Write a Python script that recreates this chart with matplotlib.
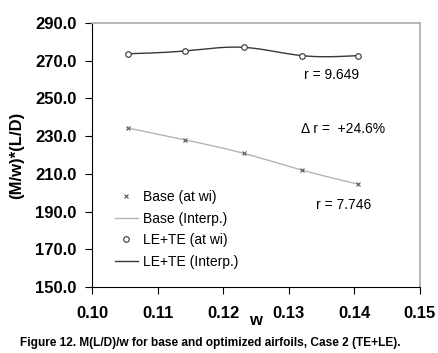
import numpy as np
import matplotlib
matplotlib.use("Agg")
import matplotlib.pyplot as plt
from matplotlib.lines import Line2D

plt.rcParams['font.family'] = ['Liberation Sans', 'DejaVu Sans']

# Data
w_pts = [0.1055, 0.1142, 0.1231, 0.1320, 0.1405]
base_vals = [234.3, 228.0, 220.9, 212.0, 204.6]
lete_vals = [273.7, 275.2, 277.1, 272.7, 272.7]
x_ticks = [0.10, 0.11, 0.12, 0.13, 0.14, 0.15]
y_ticks = [150.0, 170.0, 190.0, 210.0, 230.0, 250.0, 270.0, 290.0]
r_base = "r = 7.746"
r_lete = "r = 9.649"
delta_r = "\u0394 r =  +24.6%"
caption = "Figure 12. M(L/D)/w for base and optimized airfoils, Case 2 (TE+LE)."


def natural_spline(x, y, xs):
    x = np.asarray(x, float); y = np.asarray(y, float)
    n = len(x)
    h = np.diff(x)
    A = np.zeros((n, n)); b = np.zeros(n)
    A[0, 0] = 1; A[-1, -1] = 1
    for i in range(1, n - 1):
        A[i, i - 1] = h[i - 1]
        A[i, i] = 2 * (h[i - 1] + h[i])
        A[i, i + 1] = h[i]
        b[i] = 6 * ((y[i + 1] - y[i]) / h[i] - (y[i] - y[i - 1]) / h[i - 1])
    M = np.linalg.solve(A, b)
    out = np.empty_like(xs)
    for k, xv in enumerate(xs):
        i = min(max(np.searchsorted(x, xv) - 1, 0), n - 2)
        t1 = x[i + 1] - xv; t0 = xv - x[i]
        out[k] = (M[i] * t1**3 + M[i + 1] * t0**3) / (6 * h[i]) \
            + (y[i] / h[i] - M[i] * h[i] / 6) * t1 \
            + (y[i + 1] / h[i] - M[i + 1] * h[i] / 6) * t0
    return out


fig = plt.figure(figsize=(4.39, 3.53), dpi=100)
ax = fig.add_axes([0.2096, 0.187, 0.7471, 0.7478])

xs = np.linspace(w_pts[0], w_pts[-1], 200)
ax.plot(xs, natural_spline(w_pts, base_vals, xs), color='#b4b4b4', lw=1.0, zorder=2)
ax.plot(w_pts, base_vals, linestyle='none', marker='x', ms=3.5, mew=0.8,
        color='#555555', zorder=3)
ax.plot(xs, natural_spline(w_pts, lete_vals, xs), color='#383838', lw=1.0, zorder=2)
ax.plot(w_pts, lete_vals, linestyle='none', marker='o', ms=4, mew=0.8,
        mec='#333333', mfc='white', zorder=3)

ax.set_xlim(0.10, 0.15)
ax.set_ylim(150, 290)
ax.set_xticks(x_ticks)
ax.set_xticklabels([f"{v:.2f}" for v in x_ticks], fontsize=12, fontweight='bold')
ax.set_yticks(y_ticks)
ax.set_yticklabels([f"{v:.1f}" for v in y_ticks], fontsize=12, fontweight='bold')
ax.tick_params(direction='out', length=5, width=0.8, color='black')
ax.tick_params(axis='x', pad=9)
ax.tick_params(axis='y', pad=6)

for s in ['left', 'bottom']:
    ax.spines[s].set_color('black')
    ax.spines[s].set_linewidth(0.8)
for s in ['top', 'right']:
    ax.spines[s].set_color('#b0b0b0')
    ax.spines[s].set_linewidth(1.3)

ax.set_ylabel("(M/w)*(L/D)", fontsize=12, fontweight='bold', labelpad=8)
fig.text(0.583, 0.093, "w", fontsize=12, fontweight='bold', ha='center', va='center')

ax.text(0.1323, 262.4, r_lete, fontsize=10, ha='left', va='center')
ax.text(0.1319, 233.8, delta_r, fontsize=10, ha='left', va='center')
ax.text(0.1341, 193.5, r_base, fontsize=10, ha='left', va='center')

handles = [
    Line2D([], [], linestyle='none', marker='x', ms=3.5, mew=0.8, color='#555555'),
    Line2D([], [], color='#b4b4b4', lw=1.0),
    Line2D([], [], linestyle='none', marker='o', ms=4, mew=0.8, mec='#333333', mfc='white'),
    Line2D([], [], color='#383838', lw=1.0),
]
labels = ["Base (at wi)", "Base (Interp.)", "LE+TE (at wi)", "LE+TE (Interp.)"]
fig.legend(handles, labels, loc='upper left', bbox_to_anchor=(0.262, 0.462),
           frameon=False, fontsize=10, handlelength=1.65, handletextpad=0.36,
           labelspacing=0.55, borderaxespad=0, borderpad=0)

fig.text(0.046, 0.027, caption, fontsize=8.6, fontweight='bold', ha='left', va='center')

fig.savefig("out.png", dpi=100)
